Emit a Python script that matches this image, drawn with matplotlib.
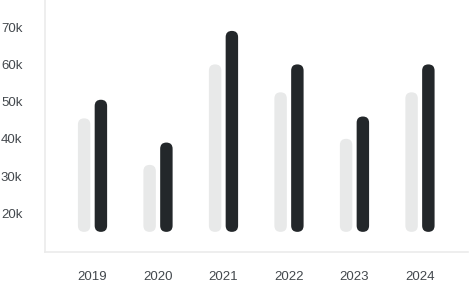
import matplotlib
matplotlib.use("Agg")
import matplotlib.pyplot as plt
from matplotlib.patches import FancyBboxPatch
from matplotlib import rcParams

rcParams["font.family"] = "Liberation Sans"
rcParams["font.size"] = 9.5

years = ["2019", "2020", "2021", "2022", "2023", "2024"]
series_a = [45.5, 33, 60, 52.5, 40, 52.5]  # light bars (k)
series_b = [50.5, 39, 69, 60, 46, 60]      # dark bars (k)
baseline = 15
y_ticks = [20, 30, 40, 50, 60, 70]

light = "#e8e9e9"
dark = "#23272a"
text_color = "#43484d"
axis_color = "#ebebeb"

fig = plt.figure(figsize=(4.7, 2.86), dpi=100)
ax = fig.add_axes([0.0947, 0.12, 0.9010, 0.88])

x = list(range(len(years)))
w = 0.19
off = 0.128
bars_a = ax.bar([i - off for i in x], [v - baseline for v in series_a], w,
                bottom=baseline, color=light)
bars_b = ax.bar([i + off for i in x], [v - baseline for v in series_b], w,
                bottom=baseline, color=dark)

ax.set_xlim(-0.733, 5.733)
ax.set_ylim(9.68, 77.3)


def round_bars(ax, bars):
    # swap plain rectangles for pill shapes, radius = half bar width in pixels
    x0, y0 = ax.transData.transform((0, 0))
    x1, y1 = ax.transData.transform((1, 1))
    aspect = (x1 - x0) / (y1 - y0)
    for b in bars:
        bx, by = b.get_xy()
        bw, bh = b.get_width(), b.get_height()
        p = FancyBboxPatch((bx, by), bw, bh,
                           boxstyle=f"round,pad=0,rounding_size={bw / 2}",
                           mutation_aspect=aspect,
                           facecolor=b.get_facecolor(), edgecolor="none")
        b.remove()
        ax.add_patch(p)


round_bars(ax, bars_a)
round_bars(ax, bars_b)

ax.set_xticks(x, years)
ax.set_yticks(y_ticks, [f"{t}k" for t in y_ticks])
ax.tick_params(length=0, colors=text_color)
ax.tick_params(axis="y", pad=16)
ax.tick_params(axis="x", pad=14)
for s in ["top", "right"]:
    ax.spines[s].set_visible(False)
for s in ["left", "bottom"]:
    ax.spines[s].set_color(axis_color)
    ax.spines[s].set_linewidth(1.2)

fig.savefig("out.png", dpi=100)
